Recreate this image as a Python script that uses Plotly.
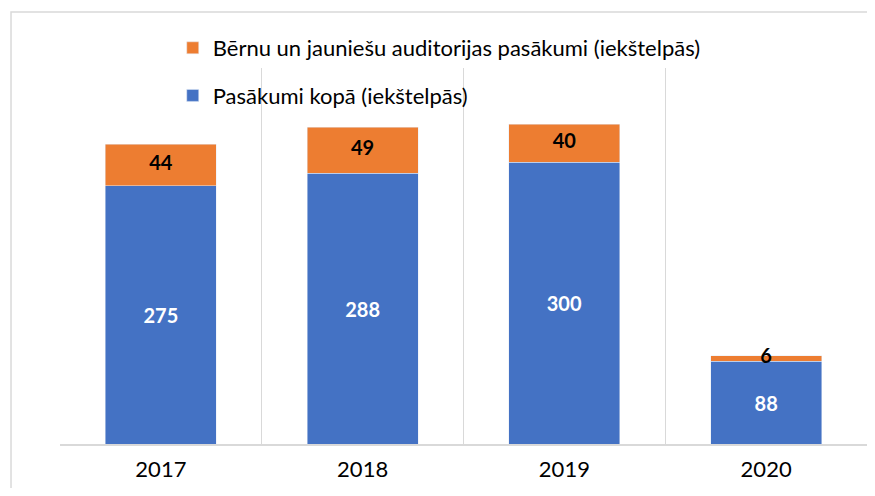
import plotly.graph_objects as go

years = ["2017", "2018", "2019", "2020"]
events_total = [275, 288, 300, 88]
events_youth = [44, 49, 40, 6]

name_total = "Pasākumi kopā (iekštelpās)"
name_youth = "Bērnu un jauniešu auditorijas pasākumi (iekštelpās)"

BLUE = "#4472C4"
ORANGE = "#ED7D31"
FONT = "Lato, 'Open Sans', sans-serif"

fig = go.Figure()
fig.add_trace(go.Bar(
    x=years, y=events_total, name=name_total, marker_color=BLUE,
    text=[str(v) for v in events_total], textposition="inside",
    insidetextanchor="middle", constraintext="none",
    textfont=dict(color="white", size=20, family=FONT, weight="bold"),
    legendgroup="a", legendrank=2, hoverinfo="x+y+name",
))
fig.add_trace(go.Bar(
    x=years, y=events_youth, name=name_youth, marker_color=ORANGE,
    legendgroup="b", legendrank=1, hoverinfo="x+y+name",
))
# labels for the orange segments, centred on each segment
fig.add_trace(go.Scatter(
    x=years, y=[t + y / 2 for t, y in zip(events_total, events_youth)],
    mode="text", text=[str(v) for v in events_youth],
    textfont=dict(color="black", size=20, family=FONT, weight="bold"),
    showlegend=False, hoverinfo="skip", cliponaxis=False,
))

fig.update_layout(
    width=859, height=480,
    barmode="stack", bargap=0.45,
    plot_bgcolor="white", paper_bgcolor="white",
    margin=dict(l=52, r=0, t=60, b=44, autoexpand=False),
    font=dict(family=FONT, color="#000000"),
    legend=dict(
        x=0.1397, y=1 - 19 / 480, xanchor="left", yanchor="top",
        xref="paper", yref="container",
        traceorder="grouped", tracegroupgap=16,
        font=dict(size=22, family=FONT, color="#000000"),
        bgcolor="rgba(0,0,0,0)",
    ),
    xaxis=dict(
        type="category", tickson="boundaries", showgrid=True,
        gridcolor="#d9d9d9", gridwidth=1,
        showline=True, linecolor="#d9d9d9", linewidth=1.5,
        ticks="", tickfont=dict(size=22, family=FONT, color="#000000"),
        ticklabelstandoff=5,
    ),
    yaxis=dict(
        range=[0, 400], showgrid=False, showticklabels=False,
        zeroline=False, showline=False, ticks="",
    ),
    shapes=[dict(
        type="rect", xref="paper", yref="paper",
        x0=-0.0607, x1=1.05, y0=-0.3, y1=1.149,
        line=dict(color="#d9d9d9", width=1.5), fillcolor="rgba(0,0,0,0)",
        layer="below",
    )],
)

fig.write_html("out.html")
